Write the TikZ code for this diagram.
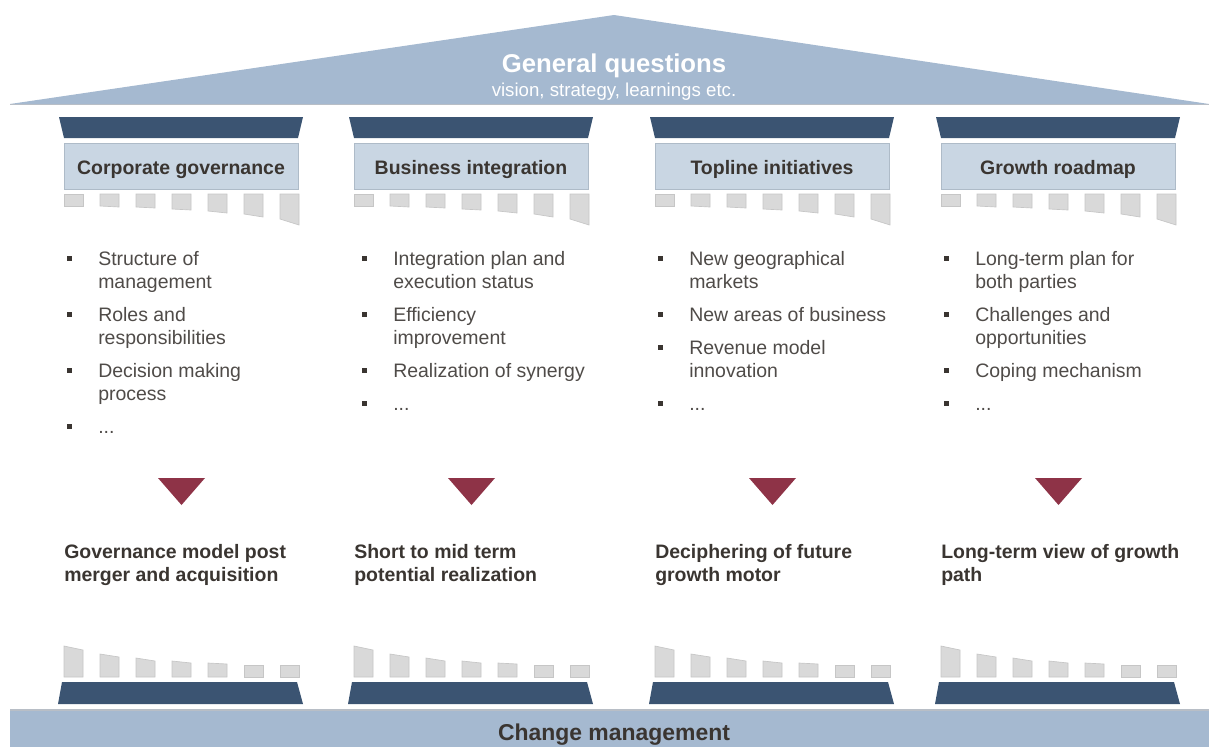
\documentclass[tikz,border=0pt]{standalone}
\usepackage{fontspec}
\setmainfont{Liberation Sans}
\usetikzlibrary{positioning}
\definecolor{roofblue}{HTML}{A5B9D0}
\definecolor{roofedge}{HTML}{B8BEC6}
\definecolor{navy}{HTML}{3B5472}
\definecolor{paleblue}{HTML}{C9D6E3}
\definecolor{paleedge}{HTML}{AEBBC8}
\definecolor{blockgray}{HTML}{D9D9D9}
\definecolor{blockedge}{HTML}{C6C6C6}
\definecolor{maroon}{HTML}{8E3347}
\definecolor{darktext}{HTML}{3A3531}
\definecolor{listtext}{HTML}{4F4B48}
\newcommand{\sqbullet}{\textcolor{darktext}{\raisebox{3.4pt}{\rule{3.6pt}{3.6pt}}}}
\newcommand{\listfont}{\fontsize{14.6}{17.25}\selectfont}
\begin{document}
\begin{tikzpicture}[x=0.75pt,y=-0.75pt,
    headbox/.style={draw=paleedge, fill=paleblue, minimum width=175.5pt, minimum height=34.5pt, inner sep=0pt, text height=12pt, text depth=0pt, text=darktext, font=\bfseries\listfont},
    itemlist/.style={anchor=north west, inner sep=0pt, text=listtext, font=\listfont},
    outcome/.style={anchor=north west, inner sep=0pt, align=left, text=darktext, font=\bfseries\listfont},
    block/.style={fill=blockgray, draw=blockedge, line width=0.5pt}]
\useasboundingbox (0,0) rectangle (1209,747);
% roof
\fill[roofblue] (10,104) -- (614,15) -- (1209,104) -- cycle;
\draw[roofedge, line width=0.6pt] (10,104) -- (1209,104);
\node[anchor=base, text=white, font=\bfseries\fontsize{19.3}{23}\selectfont] (general) at (614,72) {General questions};
\node[anchor=base, text=white, font=\fontsize{14}{16}\selectfont] (vision) at (614,96) {vision, strategy, learnings etc.};
% pillars
\foreach \dx in {0,290,591,877} {
    \fill[navy] (\dx+59,117) -- (\dx+303,117) -- (\dx+298,138) -- (\dx+64,138) -- cycle;
    \foreach \i/\yl/\yr in {0/206/206, 1/206/207, 2/207/208, 3/209/210, 4/211/213, 5/214/217, 6/219/225}
        \draw[block] (\dx+64+36*\i,194) -- (\dx+83+36*\i,194) -- (\dx+83+36*\i,\yr) -- (\dx+64+36*\i,\yl) -- cycle;
    \fill[maroon] (\dx+158,478) -- (\dx+205,478) -- (\dx+181.5,505) -- cycle;
    \foreach \i/\yl/\yr in {0/646/650, 1/654/657, 2/658/661, 3/661/663, 4/663/664, 5/665/665, 6/665/665}
        \draw[block] (\dx+64+36*\i,\yl) -- (\dx+83+36*\i,\yr) -- (\dx+83+36*\i,677) -- (\dx+64+36*\i,677) -- cycle;
    \fill[navy] (\dx+62,682) -- (\dx+297,682) -- (\dx+303,704) -- (\dx+58,704) -- cycle;
}
% headings
\node[headbox] (corp) at (181,166) {Corporate governance};
\node[headbox] (busint) at (471,166) {Business integration};
\node[headbox] (topline) at (772,166) {Topline initiatives};
\node[headbox] (growth) at (1058,166) {Growth roadmap};
% bullet lists
\node[itemlist] (list1) at (67,249) {\begin{tabular}{@{}p{23.25pt}@{}l@{}}
    \sqbullet & Structure of\\ & management\\[7.5pt]
    \sqbullet & Roles and\\ & responsibilities\\[7.5pt]
    \sqbullet & Decision making\\ & process\\[7.5pt]
    \sqbullet & ...
\end{tabular}};
\node[itemlist] (list2) at (362,249) {\begin{tabular}{@{}p{23.25pt}@{}l@{}}
    \sqbullet & Integration plan and\\ & execution status\\[7.5pt]
    \sqbullet & Efficiency\\ & improvement\\[7.5pt]
    \sqbullet & Realization of synergy\\[7.5pt]
    \sqbullet & ...
\end{tabular}};
\node[itemlist] (list3) at (658,249) {\begin{tabular}{@{}p{23.25pt}@{}l@{}}
    \sqbullet & New geographical\\ & markets\\[7.5pt]
    \sqbullet & New areas of business\\[7.5pt]
    \sqbullet & Revenue model\\ & innovation\\[7.5pt]
    \sqbullet & ...
\end{tabular}};
\node[itemlist] (list4) at (944,249) {\begin{tabular}{@{}p{23.25pt}@{}l@{}}
    \sqbullet & Long-term plan for\\ & both parties\\[7.5pt]
    \sqbullet & Challenges and\\ & opportunities\\[7.5pt]
    \sqbullet & Coping mechanism\\[7.5pt]
    \sqbullet & ...
\end{tabular}};
% outcomes
\node[outcome] (out1) at (64,544) {Governance model post\\merger and acquisition};
\node[outcome] (out2) at (354,544) {Short to mid term\\potential realization};
\node[outcome] (out3) at (655,544) {Deciphering of future\\growth motor};
\node[outcome] (out4) at (941,544) {Long-term view of growth\\path};
% foundation
\fill[roofblue] (10,710) rectangle (1209,747);
\draw[roofedge, line width=0.8pt] (10,710) -- (1209,710);
\node[anchor=base, text=darktext, font=\bfseries\fontsize{17.2}{20}\selectfont] (change) at (614,740) {Change management};
\end{tikzpicture}
\end{document}
